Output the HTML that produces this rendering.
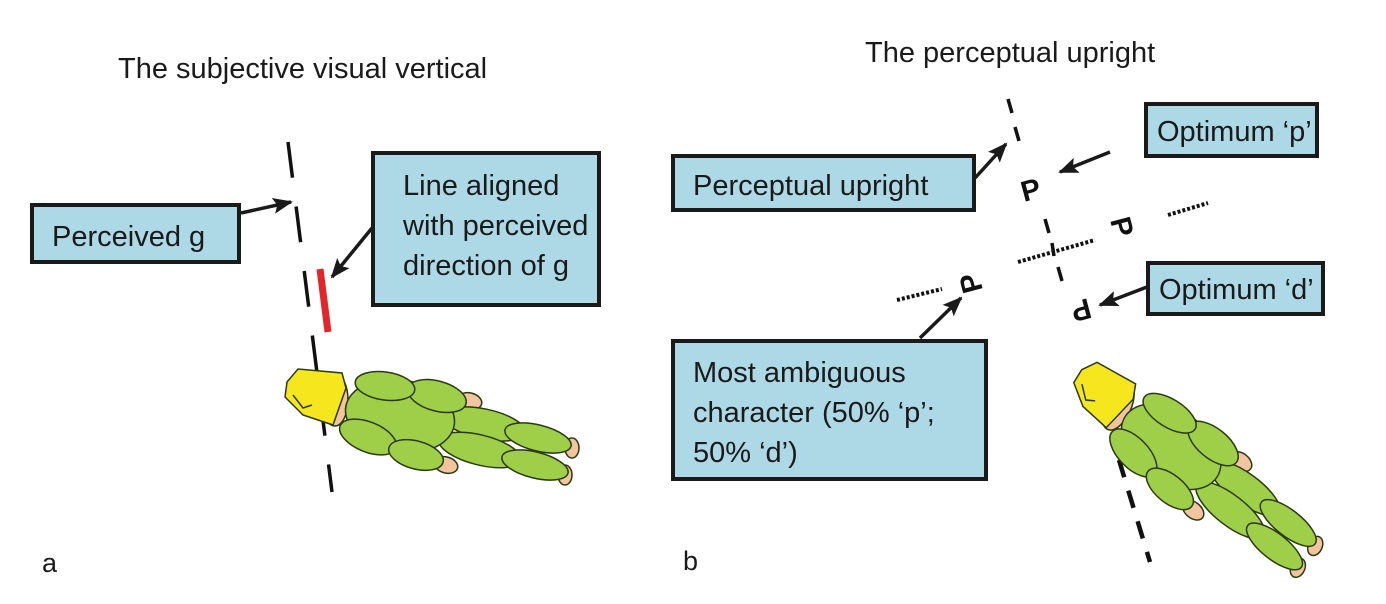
<!DOCTYPE html>
<html><head><meta charset="utf-8"><style>
html,body{margin:0;padding:0;background:#fff;}
svg{display:block;font-family:"Liberation Sans",Arial,sans-serif;}
</style></head><body>
<svg width="1386" height="604" viewBox="0 0 1386 604" xmlns="http://www.w3.org/2000/svg">
<defs>
<marker id="ah2" markerWidth="20" markerHeight="16" refX="18" refY="8" orient="auto" markerUnits="userSpaceOnUse">
<path d="M0,0 L20,8 L0,16 L4,8 Z" fill="#1a1a1a"/>
</marker>
<g id="fig" stroke="#2a3a10" stroke-width="1.5">
<ellipse cx="335" cy="400" rx="13" ry="26" fill="#f2c4a0"/>
<ellipse cx="470" cy="401" rx="12" ry="8" fill="#f2c4a0" transform="rotate(15 470 401)"/>
<ellipse cx="446" cy="465" rx="12" ry="8" fill="#f2c4a0" transform="rotate(15 446 465)"/>
<ellipse cx="572" cy="448" rx="7" ry="10" fill="#f2c4a0"/>
<ellipse cx="565" cy="475" rx="7" ry="10" fill="#f2c4a0"/>
<ellipse cx="484" cy="424" rx="42" ry="15" fill="#9fce48" transform="rotate(12 484 424)"/>
<ellipse cx="538" cy="438" rx="34" ry="13" fill="#9fce48" transform="rotate(14 538 438)"/>
<ellipse cx="480" cy="450" rx="42" ry="15" fill="#9fce48" transform="rotate(14 480 450)"/>
<ellipse cx="535" cy="465" rx="34" ry="13" fill="#9fce48" transform="rotate(14 535 465)"/>
<ellipse cx="400" cy="416" rx="55" ry="36" fill="#9fce48" transform="rotate(10 400 416)"/>
<ellipse cx="437" cy="396" rx="30" ry="15" fill="#9fce48" transform="rotate(15 437 396)"/>
<ellipse cx="385" cy="386" rx="30" ry="14" fill="#9fce48" transform="rotate(8 385 386)"/>
<ellipse cx="368" cy="437" rx="30" ry="15" fill="#9fce48" transform="rotate(22 368 437)"/>
<ellipse cx="416" cy="455" rx="28" ry="14" fill="#9fce48" transform="rotate(15 416 455)"/>
<polygon points="287,382 298,369 342,373 346,388 333,425 303,415 285,397" fill="#f6e61e"/>
<path d="M293,395 L303,408 L312,405" fill="none"/>
</g>
</defs>

<!-- Panel a -->
<text x="118" y="78" font-size="29" fill="#1a1a1a">The subjective visual vertical</text>
<line x1="288" y1="142" x2="332" y2="492" stroke="#111" stroke-width="3.5" stroke-dasharray="36,29"/>
<line x1="320" y1="269" x2="328" y2="332" stroke="#e2262b" stroke-width="7"/>
<use href="#fig"/>
<rect x="32" y="205" width="207" height="57" fill="#add8e6" stroke="#1a1a1a" stroke-width="4"/>
<text x="52" y="246" font-size="29" fill="#1a1a1a">Perceived g</text>
<rect x="373" y="153" width="226" height="152" fill="#add8e6" stroke="#1a1a1a" stroke-width="4"/>
<text font-size="29" fill="#1a1a1a"><tspan x="403" y="195">Line aligned</tspan><tspan x="403" y="235">with perceived</tspan><tspan x="403" y="275">direction of g</tspan></text>
<line x1="241" y1="213" x2="291" y2="202" stroke="#1a1a1a" stroke-width="3.5" marker-end="url(#ah2)"/>
<line x1="372" y1="228" x2="332" y2="277" stroke="#1a1a1a" stroke-width="3.5" marker-end="url(#ah2)"/>
<text x="42" y="572" font-size="27" fill="#1a1a1a">a</text>

<!-- Panel b -->
<text x="865" y="62" font-size="29" fill="#1a1a1a">The perceptual upright</text>
<g stroke="#111" stroke-width="3.5">
<line x1="1008" y1="99" x2="1012" y2="113"/>
<line x1="1015" y1="127" x2="1019" y2="141"/>
<line x1="1045" y1="219" x2="1049" y2="233"/>
<line x1="1052" y1="243" x2="1054" y2="256"/>
<line x1="1058" y1="267" x2="1062" y2="281"/>
</g>
<line x1="897" y1="300" x2="942" y2="289" stroke="#111" stroke-width="4" stroke-dasharray="3,2"/>
<line x1="1018" y1="262" x2="1095" y2="240" stroke="#111" stroke-width="4" stroke-dasharray="3,2"/>
<line x1="1168" y1="215" x2="1208" y2="203" stroke="#111" stroke-width="4" stroke-dasharray="3,2"/>
<text x="0" y="0" font-size="29" font-weight="bold" fill="#111" transform="translate(1024,202) rotate(-15)">P</text>
<text x="0" y="0" font-size="29" font-weight="bold" fill="#111" transform="translate(1110,220) rotate(75)">P</text>
<text x="0" y="0" font-size="29" font-weight="bold" fill="#111" transform="translate(983,290) rotate(-105)">P</text>
<text x="0" y="0" font-size="29" font-weight="bold" fill="#111" transform="translate(1088,298) rotate(165)">P</text>
<line x1="1119" y1="460" x2="1150" y2="562" stroke="#111" stroke-width="4.5" stroke-dasharray="18,14"/>
<use href="#fig" transform="translate(1102,393) rotate(24) translate(-315,-395)"/>
<rect x="673" y="156" width="301" height="54" fill="#add8e6" stroke="#1a1a1a" stroke-width="4"/>
<text x="693" y="195" font-size="29" fill="#1a1a1a">Perceptual upright</text>
<rect x="1146" y="104" width="171" height="52" fill="#add8e6" stroke="#1a1a1a" stroke-width="4"/>
<text x="1157" y="141" font-size="29" fill="#1a1a1a">Optimum ‘p’</text>
<rect x="1148" y="263" width="175" height="51" fill="#add8e6" stroke="#1a1a1a" stroke-width="4"/>
<text x="1159" y="299" font-size="29" fill="#1a1a1a">Optimum ‘d’</text>
<rect x="673" y="341" width="313" height="138" fill="#add8e6" stroke="#1a1a1a" stroke-width="4"/>
<text font-size="29" fill="#1a1a1a"><tspan x="693" y="382">Most ambiguous</tspan><tspan x="693" y="422">character (50% ‘p’;</tspan><tspan x="693" y="462">50% ‘d’)</tspan></text>
<line x1="975" y1="178" x2="1006" y2="144" stroke="#1a1a1a" stroke-width="3.5" marker-end="url(#ah2)"/>
<line x1="1110" y1="152" x2="1060" y2="172" stroke="#1a1a1a" stroke-width="3.5" marker-end="url(#ah2)"/>
<line x1="1147" y1="287" x2="1100" y2="305" stroke="#1a1a1a" stroke-width="3.5" marker-end="url(#ah2)"/>
<line x1="920" y1="338" x2="961" y2="298" stroke="#1a1a1a" stroke-width="3.5" marker-end="url(#ah2)"/>
<text x="683" y="570" font-size="27" fill="#1a1a1a">b</text>
</svg>
</body></html>
